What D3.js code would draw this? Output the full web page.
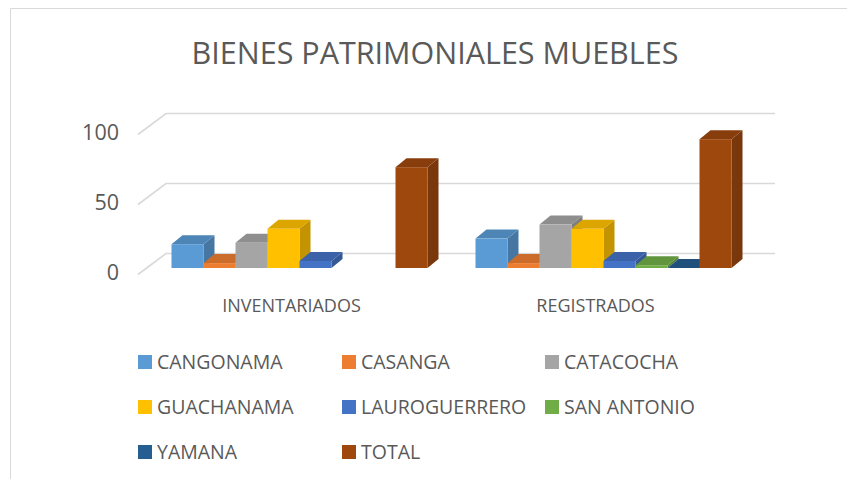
<!DOCTYPE html>
<html><head><meta charset="utf-8">
<script src="https://d3js.org/d3.v7.min.js"></script>
<style>html,body{margin:0;background:#fff}svg{display:block}text{font-family:"Open Sans","Noto Sans",sans-serif;fill:#595959}</style>
</head><body><div id="c"></div>
<script>
const categories=["INVENTARIADOS","REGISTRADOS"];
const seriesNames=["CANGONAMA","CASANGA","CATACOCHA","GUACHANAMA","LAUROGUERRERO","SAN ANTONIO","YAMANA","TOTAL"];
const seriesColors=["#5b9bd5","#ed7d31","#a5a5a5","#ffc000","#4472c4","#70ad47","#255e91","#9e480e"];
const inventariados=[17,3.5,18,28,5,null,null,72];
const registrados=[21,3.5,31,28,5,2,0,92];
const tickValues=[0,50,100];
const values=[inventariados,registrados];

const W=847,H=479;
const svg=d3.select("#c").append("svg").attr("width",W).attr("height",H);
// chart frame
svg.append("path").attr("d",d3.path&&`M10.5 479V8.5H${W}`).attr("fill","none").attr("stroke","#d9d9d9").attr("stroke-width",1);
svg.append("text").attr("x",435).attr("y",64).attr("text-anchor","middle").attr("font-size",30.5).text("BIENES PATRIMONIALES MUEBLES");

const y=d3.scaleLinear().domain([0,100]).range([268,128]);
const floorDx=28,floorDy=21,backRight=775;
const depthX=11,depthY=9;
const groupX=d3.scaleOrdinal().domain(categories).range([171.5,475.5]);
const barX=d3.scaleBand().domain(seriesNames).range([0,256]).paddingInner(0);

const grid=svg.append("g").attr("fill","none").attr("stroke","#d9d9d9").attr("stroke-width",1.6);
tickValues.forEach(t=>{
  const y0=y(t)+6-floorDy+0; 
  const back=y(t)-14.5+0;
  grid.append("path").attr("d",`M${166-floorDx} ${back+floorDy}L166 ${back}H${backRight}`);
});
const axis=svg.append("g");
tickValues.forEach(t=>axis.append("text").attr("x",119).attr("y",y(t)+12).attr("text-anchor","end").attr("font-size",21.5).text(t));

const shade=(c,k)=>d3.rgb(c).darker(k).formatHex();
categories.forEach((cat,ci)=>{
  const g=svg.append("g");
  seriesNames.forEach((s,si)=>{
    const v=values[ci][si]; if(v===null)return;
    const x0=groupX(cat)+barX(s),x1=x0+barX.bandwidth(),t=y(v),b=y(0);
    const c=seriesColors[si];
    const bg=g.append("g");
    bg.append("path").attr("fill",shade(c,.75)).attr("d",`M${x1} ${t}l${depthX} ${-depthY}V${b-depthY}L${x1} ${b}Z`);
    bg.append("path").attr("fill",shade(c,.42)).attr("d",`M${x0} ${t}l${depthX} ${-depthY}H${x1+depthX}L${x1} ${t}Z`);
    bg.append("rect").attr("x",x0).attr("y",t).attr("width",x1-x0).attr("height",b-t).attr("fill",c);
  });
  svg.append("text").attr("x",groupX(cat)+ (ci?120:120)).attr("y",312).attr("text-anchor","middle").attr("font-size",18).text(cat);
});

const legendX=[138,342,545],legendY=[362,407,452];
seriesNames.forEach((s,i)=>{
  const lx=legendX[i%3],ly=legendY[Math.floor(i/3)];
  svg.append("rect").attr("x",lx).attr("y",ly-7).attr("width",14).attr("height",14).attr("fill",seriesColors[i]);
  svg.append("text").attr("x",lx+19).attr("y",ly+7).attr("font-size",19.5).text(s);
});
</script></body></html>
